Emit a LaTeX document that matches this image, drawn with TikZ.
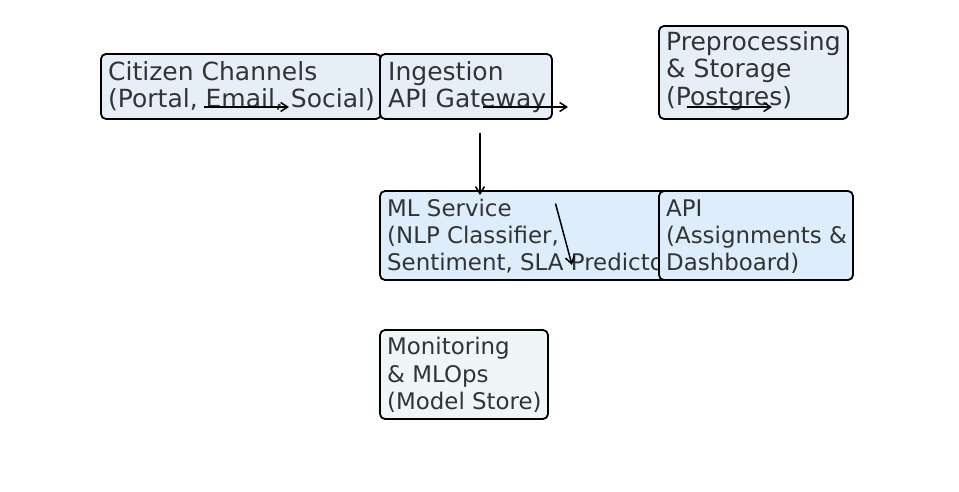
\documentclass[tikz,border=0pt]{standalone}
\usepackage{fontspec}
\setmainfont{DejaVu Sans}
\usetikzlibrary{arrows.meta}
\definecolor{txt}{HTML}{333333}
\definecolor{topfill}{HTML}{E6EEF8}
\definecolor{mlfill}{HTML}{DEEDFC}
\definecolor{monfill}{HTML}{EEF6F8}
\tikzset{
  box/.style={draw=black, line width=1.8pt, rounded corners=5pt, anchor=north west, inner sep=0pt, outer sep=0pt},
  bigtext/.style={anchor=base west, inner sep=0pt, align=left, text=txt, font=\fontsize{25}{27.6}\selectfont},
  smalltext/.style={anchor=base west, inner sep=0pt, align=left, text=txt, font=\fontsize{22.9}{27.3}\selectfont},
  conn/.style={-{Straight Barb[length=7pt,width=9pt]}, line width=1.5pt, draw=black}
}
\begin{document}
\begin{tikzpicture}[x=1pt,y=-1pt]
\useasboundingbox (0,0) rectangle (959,492);
\fill[white] (0,0) rectangle (959,492);

\node[box, fill=topfill, minimum width=280pt, minimum height=65pt] (cc) at (101,54) {};
\node[bigtext] (cct) at (108,107.8) {Citizen Channels\\(Portal, Email, Social)};

\node[box, fill=topfill, minimum width=172pt, minimum height=65pt] (ing) at (380,54) {};
\node[bigtext] (ingt) at (388,107.8) {Ingestion\\API Gateway};

\node[box, fill=topfill, minimum width=189pt, minimum height=93pt] (pre) at (659,26) {};
\node[bigtext] (pret) at (666,105.5) {Preprocessing\\\& Storage\\(Postgres)};

\node[box, fill=mlfill, minimum width=300pt, minimum height=89pt] (ml) at (380,191) {};
\node[smalltext] (mlt) at (387,270.7) {ML Service\\(NLP Classifier,\\Sentiment, SLA Predictor};

\node[box, fill=mlfill, minimum width=194pt, minimum height=89pt] (api) at (659,191) {};
\node[smalltext] (apit) at (666,270.7) {API\\(Assignments \&\\Dashboard)};

\node[box, fill=monfill, minimum width=168pt, minimum height=89pt] (mon) at (380,330) {};
\node[smalltext] (mont) at (387,409.3) {Monitoring\\\& MLOps\\(Model Store)};

\coordinate (a1s) at (204,107); \coordinate (a1e) at (289,107);
\coordinate (a2s) at (483,107); \coordinate (a2e) at (568,107);
\coordinate (a3s) at (687,107); \coordinate (a3e) at (772,107);
\coordinate (a4s) at (480,133); \coordinate (a4e) at (480,195);
\coordinate (a5s) at (555.5,203.5); \coordinate (a5e) at (572,265);
\draw[conn] (a1s) -- (a1e);
\draw[conn] (a2s) -- (a2e);
\draw[conn] (a3s) -- (a3e);
\draw[conn] (a4s) -- (a4e);
\draw[conn] (a5s) -- (a5e);
\end{tikzpicture}
\end{document}
